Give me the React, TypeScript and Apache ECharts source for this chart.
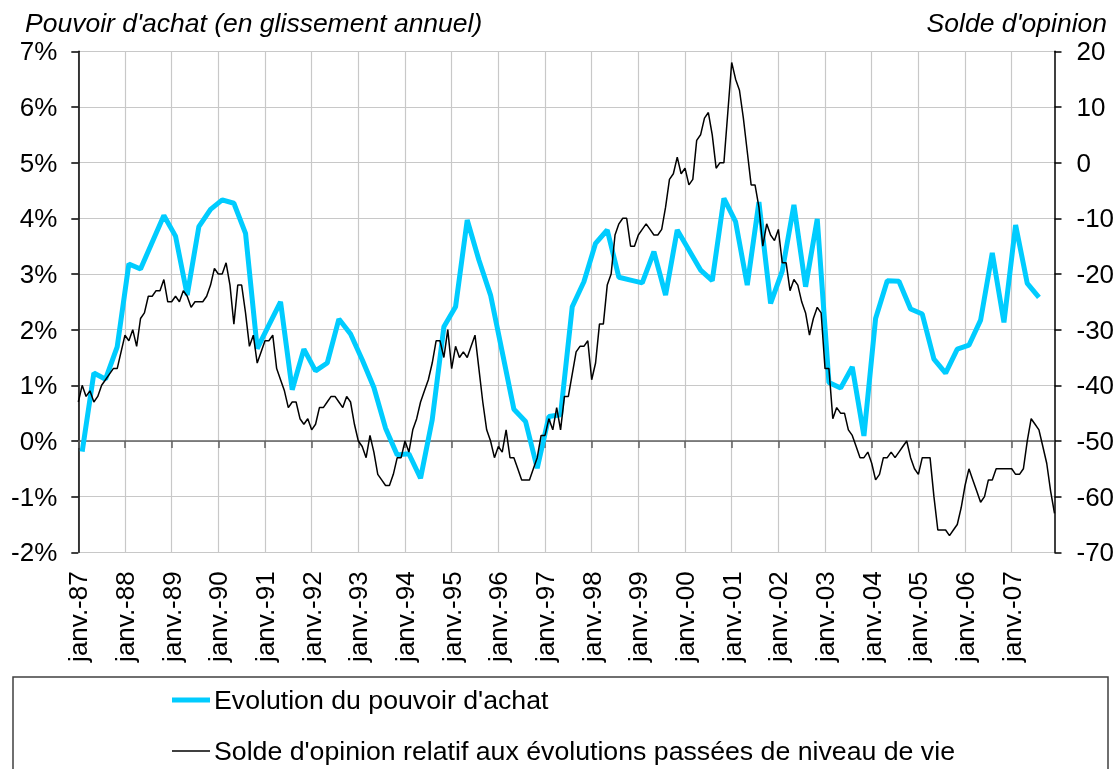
import React, { useEffect, useRef } from "react";
import * as echarts from "echarts";

const MONTHS = ["janv.", "févr.", "mars", "avr.", "mai", "juin", "juil.", "août", "sept.", "oct.", "nov.", "déc."];
const YEARS = ["87", "88", "89", "90", "91", "92", "93", "94", "95", "96", "97", "98", "99", "00", "01", "02", "03", "04", "05", "06", "07"];
const CATEGORIES = YEARS.flatMap((y) => MONTHS.map((m) => `${m}-${y}`));

// Evolution du pouvoir d'achat (glissement annuel, %), trimestriel 1987T1 - 2007T3
const POUVOIR_ACHAT = [
  -0.19, 1.22, 1.11, 1.69,
  3.18, 3.09, 3.57, 4.05,
  3.68, 2.62, 3.85, 4.16,
  4.33, 4.27, 3.73, 1.66,
  2.08, 2.5, 0.92, 1.65,
  1.26, 1.4, 2.19, 1.92,
  1.46, 0.96, 0.23, -0.25,
  -0.23, -0.67, 0.38, 2.05,
  2.41, 3.97, 3.25, 2.62,
  1.6, 0.57, 0.35, -0.49,
  0.44, 0.47, 2.41, 2.86,
  3.55, 3.79, 2.94, 2.89,
  2.84, 3.4, 2.62, 3.79,
  3.43, 3.07, 2.88, 4.36,
  3.94, 2.8, 4.29, 2.47,
  3.05, 4.24, 2.77, 3.99,
  1.05, 0.95, 1.33, 0.09,
  2.2, 2.88, 2.87, 2.37,
  2.28, 1.47, 1.22, 1.65,
  1.72, 2.17, 3.38, 2.13,
  3.88, 2.83, 2.58,
];

// Solde d'opinion relatif aux évolutions passées de niveau de vie, mensuel janv. 1987 - déc. 2007
const SOLDE_OPINION = [
  -43, -40, -42, -41, -43, -42, -40, -39, -38, -37, -37, -34,
  -31, -32, -30, -33, -28, -27, -24, -24, -23, -23, -21, -25,
  -25, -24, -25, -23, -24, -26, -25, -25, -25, -24, -22, -19,
  -20, -20, -18, -22, -29, -22, -22, -27, -33, -31, -36, -34,
  -32, -32, -31, -37, -39, -41, -44, -43, -43, -46, -47, -46,
  -48, -47, -44, -44, -43, -42, -42, -43, -44, -42, -43, -47,
  -50, -51, -53, -49, -52, -56, -57, -58, -58, -56, -53, -53,
  -50, -52, -48, -46, -43, -41, -39, -36, -32, -32, -35, -30,
  -37, -33, -35, -34, -35, -33, -31, -37, -43, -48, -50, -53,
  -51, -52, -48, -53, -53, -55, -57, -57, -57, -55, -53, -49,
  -49, -46, -48, -44, -48, -42, -42, -38, -34, -33, -33, -32,
  -39, -36, -29, -29, -22, -20, -13, -11, -10, -10, -15, -15,
  -13, -12, -11, -12, -13, -13, -12, -8, -3, -2, 1, -2,
  -1, -4, -3, 4, 5, 8, 9, 5, -1, 0, 0, 9,
  18, 15, 13, 8, 2, -4, -4, -8, -15, -11, -13, -14,
  -12, -18, -18, -23, -21, -22, -25, -27, -31, -28, -26, -27,
  -37, -37, -46, -44, -45, -45, -48, -49, -51, -53, -53, -52,
  -54, -57, -56, -53, -53, -52, -53, -52, -51, -50, -53, -55,
  -56, -53, -53, -53, -60, -66, -66, -66, -67, -66, -65, -62,
  -58, -55, -57, -59, -61, -60, -57, -57, -55, -55, -55, -55,
  -55, -56, -56, -55, -50, -46, -47, -48, -51, -54, -59, -63,
];

const SERIES_NAMES = ["Evolution du pouvoir d'achat", "Solde d'opinion relatif aux évolutions passées de niveau de vie"];
const TITLE_LEFT = "Pouvoir d'achat (en glissement annuel)";
const TITLE_RIGHT = "Solde d'opinion";

const FONT = "'Liberation Sans', Arial, Helvetica, sans-serif";
const BLUE = "#00ccff";
const GRID_COLOR = "#c8c8c8";

const isJanuary = (i: number) => i % 12 === 0;

export default function App() {
  const ref = useRef<HTMLDivElement>(null);

  useEffect(() => {
    if (!ref.current) return;
    const chart = echarts.init(ref.current, undefined, { renderer: "svg" });
    const blueData = POUVOIR_ACHAT.map((v, k) => [k * 3 + 1, v]);

    const legendText = (text: string, y: number) => ({
      type: "text",
      x: 214,
      y,
      style: { text, fontSize: 26.7, fontFamily: FONT, fill: "#000", verticalAlign: "middle", align: "left" },
    });

    chart.setOption({
      animation: false,
      textStyle: { fontFamily: FONT },
      title: [
        {
          text: TITLE_LEFT,
          left: 20,
          top: 4,
          textStyle: { fontFamily: FONT, fontStyle: "italic", fontWeight: "normal", fontSize: 26.5, color: "#000" },
        },
        {
          text: TITLE_RIGHT,
          right: 8,
          top: 4,
          textStyle: { fontFamily: FONT, fontStyle: "italic", fontWeight: "normal", fontSize: 26.5, color: "#000" },
        },
      ],
      grid: { left: 78.3, right: 65.5, top: 51.3, bottom: 216.7, containLabel: false },
      legend: { show: false },
      graphic: [
        {
          type: "rect",
          shape: { x: 13, y: 677, width: 1095, height: 130 },
          style: { fill: "none", stroke: "#404040", lineWidth: 1.5 },
          z: -1,
        },
        {
          type: "line",
          shape: { x1: 172, y1: 700, x2: 210, y2: 700 },
          style: { stroke: BLUE, lineWidth: 5 },
        },
        legendText(SERIES_NAMES[0], 700),
        {
          type: "line",
          shape: { x1: 172, y1: 751, x2: 210, y2: 751 },
          style: { stroke: "#000", lineWidth: 1.5 },
        },
        legendText(SERIES_NAMES[1], 751),
      ],
      xAxis: [
        {
          type: "category",
          data: CATEGORIES,
          boundaryGap: false,
          axisLine: { show: true, onZero: true, onZeroAxisIndex: 0, lineStyle: { color: "#606060", width: 1.5 } },
          axisTick: { show: true, interval: (i: number) => isJanuary(i), length: 7, lineStyle: { color: "#606060", width: 1.5 } },
          axisLabel: { show: false },
          splitLine: { show: true, interval: (i: number) => isJanuary(i), lineStyle: { color: GRID_COLOR, width: 1.2 } },
        },
        {
          type: "category",
          data: CATEGORIES,
          boundaryGap: false,
          position: "bottom",
          axisLine: { show: false, onZero: false },
          axisTick: { show: false },
          splitLine: { show: false },
          axisLabel: {
            show: true,
            rotate: 90,
            interval: (i: number) => isJanuary(i),
            margin: 19,
            fontSize: 26,
            fontFamily: FONT,
            color: "#000",
          },
        },
      ],
      yAxis: [
        {
          type: "value",
          min: -2,
          max: 7,
          interval: 1,
          position: "left",
          axisLine: { show: true, lineStyle: { color: "#000", width: 1.5 } },
          axisTick: { show: true, length: 7, lineStyle: { color: "#000", width: 1.5 } },
          axisLabel: { formatter: (v: number) => `${v}%`, fontSize: 26, fontFamily: FONT, color: "#000", margin: 21 },
          splitLine: { show: true, lineStyle: { color: GRID_COLOR, width: 1.2 } },
        },
        {
          type: "value",
          min: -70,
          max: 20,
          interval: 10,
          position: "right",
          axisLine: { show: true, lineStyle: { color: "#000", width: 1.5 } },
          axisTick: { show: true, length: 7, lineStyle: { color: "#000", width: 1.5 } },
          axisLabel: { fontSize: 26, fontFamily: FONT, color: "#000", margin: 22 },
          splitLine: { show: false },
        },
      ],
      series: [
        {
          name: SERIES_NAMES[0],
          type: "line",
          xAxisIndex: 0,
          yAxisIndex: 0,
          data: blueData,
          symbol: "none",
          lineStyle: { color: BLUE, width: 5 },
          itemStyle: { color: BLUE },
          z: 2,
        },
        {
          name: SERIES_NAMES[1],
          type: "line",
          xAxisIndex: 0,
          yAxisIndex: 1,
          data: SOLDE_OPINION,
          symbol: "none",
          lineStyle: { color: "#000", width: 1.5 },
          itemStyle: { color: "#000" },
          z: 3,
        },
      ],
    });
    return () => chart.dispose();
  }, []);

  return <div ref={ref} style={{ position: "fixed", left: 0, top: 0, width: 1120, height: 769 }} />;
}
